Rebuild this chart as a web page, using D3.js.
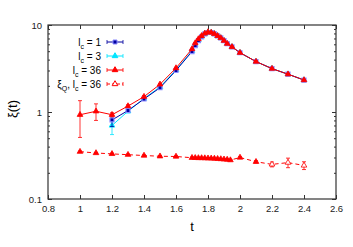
<!DOCTYPE html>
<html>
<head>
<meta charset="utf-8">
<script src="https://cdn.jsdelivr.net/npm/d3@7"></script>
<style>
  body { margin: 0; background: #fff; }
  text { font-family: "Liberation Sans", Arial, sans-serif; }
</style>
</head>
<body>
<div id="chart"></div>
<script>
// data
var t36 = [1.0, 1.1, 1.2, 1.3, 1.4, 1.5, 1.6, 1.7, 1.72, 1.74, 1.76, 1.78, 1.8, 1.82, 1.84, 1.86, 1.88, 1.9, 1.92, 1.95, 2.0, 2.1, 2.2, 2.3, 2.4];
var xi36 = [0.93, 1.02, 0.93, 1.17, 1.5, 2.08, 3.2, 5.3, 6.2, 6.9, 7.5, 8.0, 8.3, 8.2, 7.9, 7.5, 7.1, 6.6, 6.1, 5.6, 4.8, 3.8, 3.15, 2.72, 2.33];
var err36 = [0.42, 0.22, 0.05, 0.04, 0.04, 0.05, 0.06, 0.1, 0.1, 0.1, 0.1, 0.1, 0.1, 0.1, 0.1, 0.1, 0.1, 0.1, 0.1, 0.08, 0.06, 0.05, 0.04, 0.04, 0.03];

var t1 = [1.2, 1.3, 1.4, 1.5, 1.6, 1.7, 1.72, 1.74, 1.76, 1.78, 1.8, 1.82, 1.84, 1.86, 1.88, 1.9, 1.92, 1.95, 2.0, 2.1, 2.2, 2.3, 2.4];
var xi1 = [0.81, 1.04, 1.41, 1.9, 3.0, 4.95, 5.8, 6.6, 7.3, 7.9, 8.2, 8.2, 7.9, 7.5, 7.1, 6.6, 6.1, 5.6, 4.8, 3.8, 3.15, 2.72, 2.33];
var err1 = [0.13, 0.04, 0.04, 0.05, 0.06, 0.1, 0.1, 0.1, 0.1, 0.1, 0.1, 0.1, 0.1, 0.1, 0.1, 0.1, 0.1, 0.08, 0.06, 0.05, 0.04, 0.04, 0.03];

var t3 = [1.2, 1.3, 1.4, 1.5, 1.6, 1.7, 1.72, 1.74, 1.76, 1.78, 1.8, 1.82, 1.84, 1.86, 1.88, 1.9, 1.92, 1.95, 2.0, 2.1, 2.2, 2.3, 2.4];
var xi3 = [0.70, 1.02, 1.43, 1.94, 3.05, 5.05, 5.95, 6.7, 7.4, 7.95, 8.25, 8.2, 7.9, 7.5, 7.1, 6.6, 6.1, 5.6, 4.8, 3.8, 3.15, 2.72, 2.33];
var err3 = [0.15, 0.04, 0.04, 0.05, 0.06, 0.1, 0.1, 0.1, 0.1, 0.1, 0.1, 0.1, 0.1, 0.1, 0.1, 0.1, 0.1, 0.08, 0.06, 0.05, 0.04, 0.04, 0.03];

var tQ = [1.0, 1.1, 1.2, 1.3, 1.4, 1.5, 1.6, 1.7, 1.72, 1.74, 1.76, 1.78, 1.8, 1.82, 1.84, 1.86, 1.88, 1.9, 1.92, 1.94, 2.0, 2.1, 2.2, 2.3, 2.4];
var xiQ = [0.35, 0.338, 0.33, 0.323, 0.316, 0.31, 0.308, 0.298, 0.297, 0.296, 0.296, 0.295, 0.294, 0.293, 0.292, 0.29, 0.288, 0.286, 0.284, 0.28, 0.30, 0.268, 0.25, 0.262, 0.243];
var errQ = [0.005, 0.005, 0.005, 0.005, 0.005, 0.005, 0.005, 0.005, 0.005, 0.005, 0.005, 0.005, 0.005, 0.005, 0.005, 0.005, 0.005, 0.005, 0.005, 0.005, 0.006, 0.008, 0.016, 0.033, 0.025];

var xTicks = [0.8, 1, 1.2, 1.4, 1.6, 1.8, 2, 2.2, 2.4, 2.6];
var yTicks = [0.1, 1, 10];

var svgWidth = 353;
var svgHeight = 247;
var margin = { top: 25, right: 17, bottom: 48, left: 48 };
var width = svgWidth - margin.left - margin.right;
var height = svgHeight - margin.top - margin.bottom;

var svg = d3.select("#chart")
  .append("svg")
  .attr("width", svgWidth)
  .attr("height", svgHeight);

var chartGroup = svg.append("g")
  .attr("transform", `translate(${margin.left}, ${margin.top})`);

var x = d3.scaleLinear().domain([0.8, 2.6]).range([0, width]);
var y = d3.scaleLog().domain([0.1, 10]).range([height, 0]);

// minor log ticks
var minor = [];
[0.1, 1].forEach(function(d) {
  for (var k = 2; k <= 9; k++) minor.push(d * k);
});

var axisColor = "#333";

// axes (ticks pointing in, mirrored)
var bottomAxis = d3.axisBottom(x).tickValues(xTicks).tickSizeInner(-4).tickSizeOuter(0).tickPadding(6)
  .tickFormat(d => String(+d.toFixed(1)));
var topAxis = d3.axisTop(x).tickValues(xTicks).tickSizeInner(-4).tickSizeOuter(0).tickFormat("");
var leftAxis = d3.axisLeft(y).tickValues(yTicks).tickSizeInner(-4).tickSizeOuter(0).tickPadding(6)
  .tickFormat(d => String(d));
var rightAxis = d3.axisRight(y).tickValues(yTicks).tickSizeInner(-4).tickSizeOuter(0).tickFormat("");
var leftMinor = d3.axisLeft(y).tickValues(minor).tickSizeInner(-2).tickSizeOuter(0).tickFormat("");
var rightMinor = d3.axisRight(y).tickValues(minor).tickSizeInner(-2).tickSizeOuter(0).tickFormat("");

function styleAxis(g) {
  g.select(".domain").remove();
  g.selectAll("line").attr("stroke", axisColor);
  g.selectAll("text").attr("fill", "#222").style("font-size", "9.5px");
}

chartGroup.append("g").attr("transform", `translate(0, ${height})`).call(bottomAxis).call(styleAxis);
chartGroup.append("g").call(topAxis).call(styleAxis);
chartGroup.append("g").call(leftAxis).call(styleAxis);
chartGroup.append("g").attr("transform", `translate(${width}, 0)`).call(rightAxis).call(styleAxis);
chartGroup.append("g").call(leftMinor).call(styleAxis);
chartGroup.append("g").attr("transform", `translate(${width}, 0)`).call(rightMinor).call(styleAxis);

chartGroup.append("rect")
  .attr("width", width)
  .attr("height", height)
  .attr("fill", "none")
  .attr("stroke", axisColor)
  .attr("stroke-width", 1.2);

// axis labels
svg.append("text")
  .attr("x", margin.left + width / 2)
  .attr("y", 231)
  .attr("text-anchor", "middle")
  .style("font-size", "13px")
  .text("t");

svg.append("text")
  .attr("transform", "translate(17, 109) rotate(-90)")
  .attr("text-anchor", "middle")
  .style("font-size", "13px")
  .text("ξ(t)");

var trianglePath = d3.symbol().type(d3.symbolTriangle).size(14)();
var squarePath = d3.symbol().type(d3.symbolSquare).size(16)();

var series = [
  { t: tQ, v: xiQ, e: errQ, color: "#ff0000", marker: "tri-open", dash: "4,3" },
  { t: t3, v: xi3, e: err3, color: "#00e5ff", marker: "tri", dash: null },
  { t: t1, v: xi1, e: err1, color: "#0000a0", marker: "square", dash: null },
  { t: t36, v: xi36, e: err36, color: "#ff0000", marker: "tri", dash: null }
];

var line = d3.line().x(d => x(d.t)).y(d => y(d.v));

series.forEach(function(s) {
  var pts = s.t.map((t, i) => ({ t: t, v: s.v[i], e: s.e[i] }));
  var g = chartGroup.append("g");

  g.append("path")
    .datum(pts)
    .attr("d", line)
    .attr("fill", "none")
    .attr("stroke", s.color)
    .attr("stroke-width", 1)
    .attr("stroke-dasharray", s.dash);

  // error bars
  var bars = g.selectAll(".bar").data(pts).enter().append("g");
  bars.append("line")
    .attr("x1", d => x(d.t)).attr("x2", d => x(d.t))
    .attr("y1", d => y(d.v + d.e)).attr("y2", d => y(Math.max(d.v - d.e, 0.101)))
    .attr("stroke", s.color).attr("stroke-width", 0.8);
  bars.append("line")
    .attr("x1", d => x(d.t) - 2).attr("x2", d => x(d.t) + 2)
    .attr("y1", d => y(d.v + d.e)).attr("y2", d => y(d.v + d.e))
    .attr("stroke", s.color).attr("stroke-width", 0.8);
  bars.append("line")
    .attr("x1", d => x(d.t) - 2).attr("x2", d => x(d.t) + 2)
    .attr("y1", d => y(d.v - d.e)).attr("y2", d => y(d.v - d.e))
    .attr("stroke", s.color).attr("stroke-width", 0.8);

  // markers
  g.selectAll(".pt").data(pts).enter().append("path")
    .attr("transform", d => `translate(${x(d.t)}, ${y(d.v)})`)
    .attr("d", s.marker === "square" ? squarePath : trianglePath)
    .attr("fill", d => (s.marker === "tri-open" && d.e > 0.012) ? "#fff" : s.color)
    .attr("stroke", s.marker === "square" ? "#8a8aff" : s.color)
    .attr("stroke-width", s.marker === "square" ? 1.2 : 0.8);
});

// legend
var legend = [
  { color: "#0000a0", marker: "square", dash: null, main: "l", sub: "c", rest: " = 1" },
  { color: "#00e5ff", marker: "tri", dash: null, main: "l", sub: "c", rest: " = 3" },
  { color: "#ff0000", marker: "tri", dash: null, main: "l", sub: "c", rest: " = 36" },
  { color: "#ff0000", marker: "tri-open", dash: "3,2", main: "ξ", sub: "Q", rest: ", l", sub2: "c", rest2: " = 36" }
];

legend.forEach(function(l, i) {
  var yy = 42 + i * 14;
  var txt = svg.append("text")
    .attr("x", 101)
    .attr("y", yy + 4)
    .attr("text-anchor", "end")
    .style("font-size", "10px");
  txt.append("tspan").text(l.main);
  txt.append("tspan").attr("dy", 3).style("font-size", "7px").text(l.sub);
  txt.append("tspan").attr("dy", -3).text(l.rest);
  if (l.sub2) {
    txt.append("tspan").attr("dy", 3).style("font-size", "7px").text(l.sub2);
    txt.append("tspan").attr("dy", -3).text(l.rest2);
  }

  svg.append("line")
    .attr("x1", 107).attr("x2", 123).attr("y1", yy).attr("y2", yy)
    .attr("stroke", l.color).attr("stroke-width", 1)
    .attr("stroke-dasharray", l.dash);
  [107, 123].forEach(function(xx) {
    svg.append("line")
      .attr("x1", xx).attr("x2", xx).attr("y1", yy - 2).attr("y2", yy + 2)
      .attr("stroke", l.color).attr("stroke-width", 0.8);
  });
  svg.append("path")
    .attr("transform", `translate(115, ${yy})`)
    .attr("d", l.marker === "square" ? squarePath : trianglePath)
    .attr("fill", l.marker === "tri-open" ? "#fff" : l.color)
    .attr("stroke", l.marker === "square" ? "#8a8aff" : l.color)
    .attr("stroke-width", 1);
});
</script>
</body>
</html>
